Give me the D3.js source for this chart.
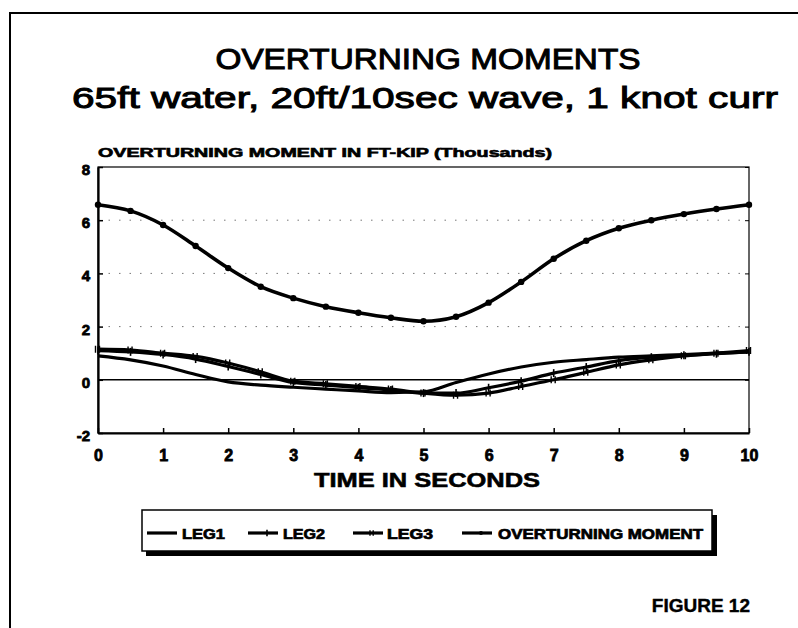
<!DOCTYPE html>
<html>
<head>
<meta charset="utf-8">
<script src="https://cdn.jsdelivr.net/npm/d3@7/dist/d3.min.js"></script>
<style>
  html, body { margin: 0; padding: 0; background: #fff; }
  svg { display: block; font-family: "Liberation Sans", Arial, sans-serif; }
</style>
</head>
<body>
<svg id="chart" width="798" height="628"></svg>
<script>
// time axis: readings every half second
const times = [0, 0.5, 1, 1.5, 2, 2.5, 3, 3.5, 4, 4.5, 5, 5.5, 6, 6.5, 7, 7.5, 8, 8.5, 9, 9.5, 10];

// moments in thousands of ft-kip
const leg1 = [0.9, 0.75, 0.52, 0.2, -0.08, -0.2, -0.28, -0.35, -0.42, -0.48, -0.45, -0.1, 0.22, 0.48, 0.66, 0.76, 0.85, 0.9, 0.95, 1.0, 1.05];
const leg2 = [1.1, 1.05, 0.95, 0.78, 0.5, 0.2, -0.1, -0.2, -0.3, -0.38, -0.5, -0.5, -0.3, -0.05, 0.25, 0.48, 0.72, 0.85, 0.92, 0.98, 1.05];
const leg3 = [1.15, 1.12, 1.0, 0.88, 0.63, 0.3, -0.05, -0.15, -0.25, -0.35, -0.5, -0.58, -0.5, -0.25, 0.0, 0.28, 0.56, 0.75, 0.9, 1.0, 1.1];
const overturning = [6.58, 6.35, 5.82, 5.03, 4.2, 3.5, 3.07, 2.75, 2.52, 2.33, 2.2, 2.37, 2.9, 3.68, 4.55, 5.23, 5.7, 6.0, 6.23, 6.42, 6.58];

const xTicks = [0, 1, 2, 3, 4, 5, 6, 7, 8, 9, 10];
const yTicks = [-2, 0, 2, 4, 6, 8];
const gridLevels = [2, 4, 6];

const seriesNames = ["LEG1", "LEG2", "LEG3", "OVERTURNING MOMENT"];
const seriesData = [leg1, leg2, leg3, overturning];
const seriesMarkers = ["none", "tick", "cross", "dot"];

const svg = d3.select('#chart');

const plotLeft = 98, plotRight = 749, plotTop = 167, plotBottom = 433;
const x = d3.scaleLinear().domain([0, 10]).range([plotLeft, plotRight]);
const y = d3.scaleLinear().domain([-2, 8]).range([plotBottom, plotTop]);

// outer page frame (scan border)
svg.append('path')
    .attr('d', 'M10,628 L10,13 L798,13')
    .attr('fill', 'none')
    .attr('stroke', '#000')
    .attr('stroke-width', 2);

// titles
svg.append('text')
    .attr('x', 428).attr('y', 69)
    .attr('text-anchor', 'middle')
    .attr('font-size', 29)
    .attr('stroke', '#000').attr('stroke-width', 1)
    .attr('textLength', 425).attr('lengthAdjust', 'spacingAndGlyphs')
    .text('OVERTURNING MOMENTS');

svg.append('text')
    .attr('x', 425).attr('y', 108)
    .attr('text-anchor', 'middle')
    .attr('font-size', 30)
    .attr('stroke', '#000').attr('stroke-width', 1)
    .attr('textLength', 706).attr('lengthAdjust', 'spacingAndGlyphs')
    .text('65ft water, 20ft/10sec wave, 1 knot curr');

svg.append('text')
    .attr('x', 98).attr('y', 157)
    .attr('font-size', 12)
    .attr('font-weight', 'bold')
    .attr('stroke', '#000').attr('stroke-width', 0.6)
    .attr('textLength', 454).attr('lengthAdjust', 'spacingAndGlyphs')
    .text('OVERTURNING MOMENT IN FT-KIP (Thousands)');

// dotted grid
svg.append('g')
    .selectAll('line')
    .data(gridLevels)
    .join('line')
    .attr('x1', plotLeft).attr('x2', plotRight)
    .attr('y1', d => y(d)).attr('y2', d => y(d))
    .attr('stroke', '#777')
    .attr('stroke-width', 1)
    .attr('stroke-dasharray', '1.5,9');

// zero line
svg.append('line')
    .attr('x1', plotLeft).attr('x2', plotRight)
    .attr('y1', y(0)).attr('y2', y(0))
    .attr('stroke', '#000').attr('stroke-width', 1.6);

// frame
svg.append('rect')
    .attr('x', plotLeft).attr('y', plotTop)
    .attr('width', plotRight - plotLeft).attr('height', plotBottom - plotTop)
    .attr('fill', 'none')
    .attr('stroke', '#000').attr('stroke-width', 1.2);

const fmt = d => String(d); // plain hyphen for "-2"

const xAxis = d3.axisBottom(x)
    .tickValues(xTicks)
    .tickSize(-5)
    .tickSizeOuter(0)
    .tickPadding(17)
    .tickFormat(fmt);

const gx = svg.append('g')
    .attr('transform', `translate(0,${plotBottom})`)
    .call(xAxis);
gx.select('.domain').attr('stroke-width', 2.2);
gx.selectAll('.tick line').attr('stroke-width', 1.5);
gx.selectAll('text')
    .attr('font-size', 16).attr('font-weight', 'bold')
    .attr('font-family', '"Liberation Sans", Arial, sans-serif')
    .attr('stroke', '#000').attr('stroke-width', 0.8);

const yAxis = d3.axisLeft(y)
    .tickValues(yTicks)
    .tickSize(-5)
    .tickSizeOuter(0)
    .tickPadding(8)
    .tickFormat(fmt);

const gy = svg.append('g')
    .attr('transform', `translate(${plotLeft},0)`)
    .call(yAxis);
gy.select('.domain').attr('stroke-width', 2.2);
gy.selectAll('.tick line').attr('stroke-width', 1.5);
gy.selectAll('text')
    .attr('font-size', 15).attr('font-weight', 'bold')
    .attr('dy', '0.5em')
    .attr('font-family', '"Liberation Sans", Arial, sans-serif')
    .attr('stroke', '#000').attr('stroke-width', 0.8);

// right side inner ticks
svg.append('g')
    .attr('transform', `translate(${plotRight},0)`)
    .call(d3.axisRight(y).tickValues(yTicks).tickSize(-4).tickFormat(''))
    .select('.domain').remove();

svg.append('text')
    .attr('x', 427).attr('y', 487)
    .attr('text-anchor', 'middle')
    .attr('font-size', 21).attr('font-weight', 'bold')
    .attr('stroke', '#000').attr('stroke-width', 0.6)
    .attr('textLength', 226).attr('lengthAdjust', 'spacingAndGlyphs')
    .text('TIME IN SECONDS');

// series
const line = d3.line()
    .x((d, i) => x(times[i]))
    .y(d => y(d))
    .curve(d3.curveMonotoneX);

function drawMarkers(g, pts, kind, size) {
    if (kind === 'dot') {
        g.selectAll('circle').data(pts).join('circle')
            .attr('cx', d => d[0]).attr('cy', d => d[1])
            .attr('r', size).attr('fill', '#000');
    } else if (kind === 'tick') {
        g.selectAll('line').data(pts).join('line')
            .attr('x1', d => d[0]).attr('x2', d => d[0])
            .attr('y1', d => d[1] - size * 1.6).attr('y2', d => d[1] + size * 1.6)
            .attr('stroke', '#000').attr('stroke-width', 1.6);
    } else if (kind === 'cross') {
        g.selectAll('path').data(pts).join('path')
            .attr('d', d => `M${d[0] - size},${d[1] - size * 1.4}L${d[0] - size},${d[1] + size * 1.4}M${d[0] + size * 0.6},${d[1] - size * 1.4}L${d[0] + size * 0.6},${d[1] + size * 1.4}`)
            .attr('stroke', '#000').attr('stroke-width', 1.4);
    }
}

seriesData.forEach((vals, k) => {
    const g = svg.append('g');
    g.append('path')
        .attr('d', line(vals))
        .attr('fill', 'none')
        .attr('stroke', '#000')
        .attr('stroke-width', k === 3 ? 3.6 : 3.2)
        .attr('stroke-linejoin', 'round');
    const pts = vals.map((v, i) => [x(times[i]), y(v)]);
    drawMarkers(g.append('g'), pts, seriesMarkers[k], k === 3 ? 3.2 : 2.5);
});

// legend box with drop shadow
const lg = svg.append('g');
lg.append('rect')
    .attr('x', 146).attr('y', 515).attr('width', 571).attr('height', 41)
    .attr('fill', '#000');
lg.append('rect')
    .attr('x', 142).attr('y', 510).attr('width', 570).attr('height', 41)
    .attr('fill', '#fff').attr('stroke', '#000').attr('stroke-width', 1.5);

const legendX = [147, 248, 353, 462];
const legendTextX = [182, 283, 387, 498];
const legendTextW = [43, 42, 46, 205];
seriesNames.forEach((name, k) => {
    const lx = legendX[k], ly = 533;
    lg.append('line')
        .attr('x1', lx).attr('x2', lx + 30)
        .attr('y1', ly).attr('y2', ly)
        .attr('stroke', '#000').attr('stroke-width', 3.2);
    drawMarkers(lg.append('g'), [[lx + 19, ly]], seriesMarkers[k], 2);
    lg.append('text')
        .attr('x', legendTextX[k]).attr('y', ly + 6)
        .attr('font-size', 14).attr('font-weight', 'bold')
        .attr('stroke', '#000').attr('stroke-width', 0.7)
        .attr('textLength', legendTextW[k]).attr('lengthAdjust', 'spacingAndGlyphs')
        .text(name);
});

svg.append('text')
    .attr('x', 750).attr('y', 612)
    .attr('text-anchor', 'end')
    .attr('font-size', 19).attr('font-weight', 'bold')
    .attr('stroke', '#000').attr('stroke-width', 0.4)
    .text('FIGURE 12');
</script>
</body>
</html>
